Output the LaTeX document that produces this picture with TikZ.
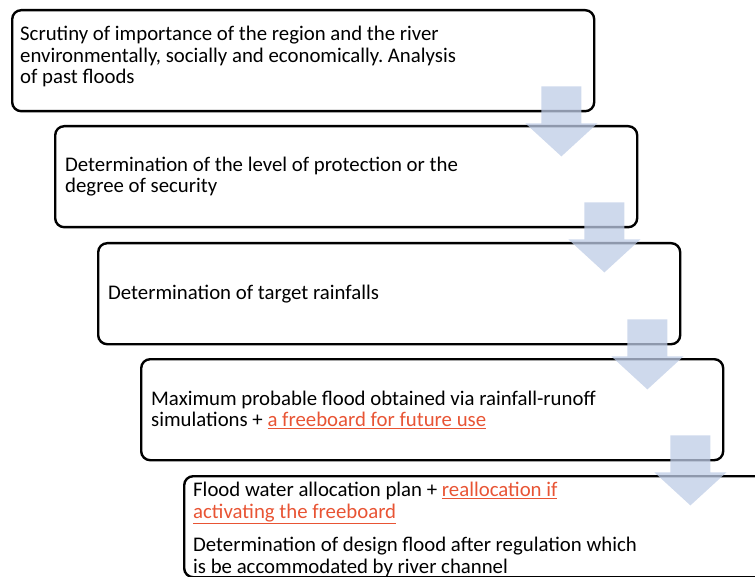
\documentclass[tikz,border=0pt]{standalone}
\usepackage{fontspec}
\setmainfont{Carlito}
\usetikzlibrary{positioning,calc}
\frenchspacing

\definecolor{arrowblue}{RGB}{190,204,230}
\definecolor{linkred}{RGB}{232,84,52}
\newcommand{\hl}[1]{\textcolor{linkred}{\underline{#1}}}

\tikzset{
  stage/.style={draw, line width=2.4pt, rounded corners=9pt, anchor=north west,
    minimum width=582pt, minimum height=101pt, inner sep=0pt},
  stagetext/.style={align=left, inner sep=0pt, font=\fontsize{20.8}{21.5}\selectfont},
  flow/.style={fill=arrowblue, fill opacity=0.75, draw=none}
}

% block arrow hanging from the lower right corner of a stage
\newcommand{\flowarrow}[1]{%
  \path[flow] ($(#1.south east)+(-54,-26)$) -- ++(40,0) -- ++(0,37) -- ++(16,0)
    -- ++(-36,33) -- ++(-36,-33) -- ++(16,0) -- cycle;}

\begin{document}
\begin{tikzpicture}[x=1pt, y=-1pt]
  \useasboundingbox (0,0) rectangle (755,577);

  % the five stages
  \node[stage] (s1) at (11,9) {};
  \node[stage] (s2) at (54,125) {};
  \node[stage] (s3) at (97,242) {};
  \node[stage] (s4) at (140,358) {};
  \node[stage, minimum width=620pt] (s5) at (183,475) {};

  \node[stagetext, anchor=north west] (t1) at ($(s1.north west)+(9,17)$)
    {Scrutiny of importance of the region and the river\\
     environmentally, socially and economically. Analysis\\
     of past floods};
  \node[stagetext, anchor=west] (t2) at ($(s2.west)+(11,0)$)
    {Determination of the level of protection or the\\degree of security};
  \node[stagetext, anchor=west] (t3) at ($(s3.west)+(11,0)$)
    {Determination of target rainfalls};
  \node[stagetext, anchor=west] (t4) at ($(s4.west)+(11,0)$)
    {Maximum probable flood obtained via rainfall-runoff\\
     simulations + \hl{a freeboard for future use}};
  \node[stagetext, anchor=north west] (t5) at ($(s5.north west)+(10,7)$)
    {Flood water allocation plan + \hl{reallocation if}\\
     \hl{activating the freeboard}\\[12pt]
     Determination of design flood after regulation which\\
     is be accommodated by river channel};

  % arrows between the stages
  \flowarrow{s1}
  \flowarrow{s2}
  \flowarrow{s3}
  \flowarrow{s4}
\end{tikzpicture}
\end{document}
